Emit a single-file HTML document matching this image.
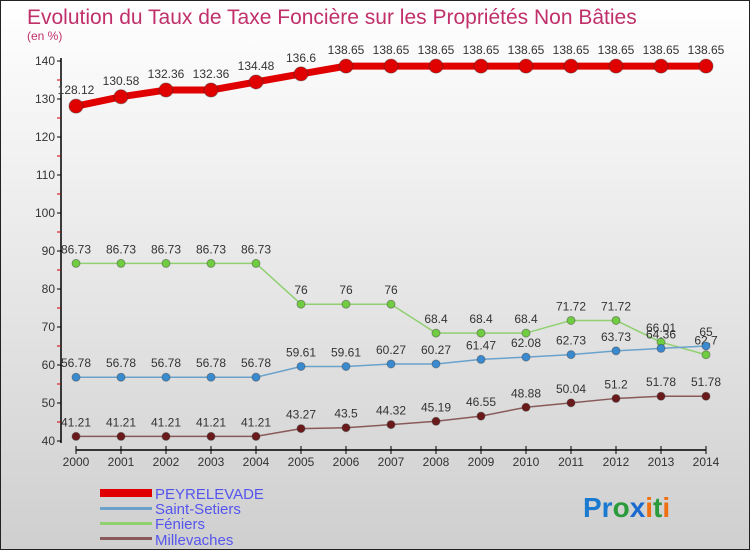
<!DOCTYPE html>
<html><head><meta charset="utf-8"><style>
body{margin:0}
#c{width:750px;height:550px;position:relative;overflow:hidden;font-family:"Liberation Sans",sans-serif}
</style></head><body>
<div id="c">
<svg id="s" width="750" height="550" xmlns="http://www.w3.org/2000/svg">
<defs><linearGradient id="bg" x1="0" y1="0" x2="0" y2="1"><stop offset="0" stop-color="#ffffff"/><stop offset="1" stop-color="#cfcfcf"/></linearGradient></defs>
<rect x="0.5" y="0.5" width="749" height="549" fill="url(#bg)" stroke="#222"/>
<text x="27" y="24" font-size="21" fill="#c0306a">Evolution du Taux de Taxe Foncière sur les Propriétés Non Bâties</text>
<text x="27" y="40" font-size="12" fill="#c0306a">(en %)</text>
<g id="axes"></g><g id="series"></g>
<g>
<rect x="100" y="489" width="52" height="8" fill="#e00000"/>
<text x="155" y="499" font-size="15" fill="#5555ee">PEYRELEVADE</text>
<rect x="100" y="507" width="52" height="3" fill="#6aa2cc"/>
<text x="155" y="514" font-size="15" fill="#5555ee">Saint-Setiers</text>
<rect x="100" y="522" width="52" height="3" fill="#90d070"/>
<text x="155" y="529" font-size="15" fill="#5555ee">Féniers</text>
<rect x="100" y="537" width="52" height="3" fill="#8a5a5a"/>
<text x="155" y="545" font-size="15" fill="#5555ee">Millevaches</text>
</g>
<g font-size="28" font-weight="bold">
<text x="583" y="517"><tspan fill="#1a7ad0">Pr</tspan><tspan fill="#2a9a3a">o</tspan><tspan fill="#1a6ad0">x</tspan><tspan fill="#f07010">i</tspan><tspan fill="#2a9a3a">t</tspan><tspan fill="#f07010">i</tspan></text>
</g>
</svg>
</div>
<script>
const years=[2000,2001,2002,2003,2004,2005,2006,2007,2008,2009,2010,2011,2012,2013,2014];
const peyrelevade=[128.12,130.58,132.36,132.36,134.48,136.6,138.65,138.65,138.65,138.65,138.65,138.65,138.65,138.65,138.65];
const saintSetiers=[56.78,56.78,56.78,56.78,56.78,59.61,59.61,60.27,60.27,61.47,62.08,62.73,63.73,64.36,65];
const feniers=[86.73,86.73,86.73,86.73,86.73,76,76,76,68.4,68.4,68.4,71.72,71.72,66.01,62.7];
const millevaches=[41.21,41.21,41.21,41.21,41.21,43.27,43.5,44.32,45.19,46.55,48.88,50.04,51.2,51.78,51.78];
const yTicks=[40,50,60,70,80,90,100,110,120,130,140];
const NS="http://www.w3.org/2000/svg";
const X=i=>76+i*45;
const Y=v=>441-(v-40)*3.8;
function mk(tag,attrs,parent){const e=document.createElementNS(NS,tag);for(const k in attrs)e.setAttribute(k,attrs[k]);parent.appendChild(e);return e;}
const axes=document.getElementById('axes');
let yl=mk('line',{x1:61,y1:58,x2:61,y2:443,stroke:'#000','stroke-width':1.5},axes);


yTicks.forEach(t=>{
 const l=mk('line',{x1:57,y1:Y(t),x2:61,y2:Y(t),stroke:'#000'},axes);
 
 
 const m=mk('line',{x1:57,y1:Y(t+5),x2:61,y2:Y(t+5),stroke:'#c00'},axes);
 if(t===140)m.remove();
 const tx=mk('text',{x:55,y:Y(t)+4,'font-size':12,fill:'#333','text-anchor':'end'},axes);
 tx.textContent=t;
 
 
});
let xl=mk('line',{x1:76,y1:450,x2:706,y2:450,stroke:'#000','stroke-width':1.5},axes);


years.forEach((yr,i)=>{
 mk('line',{x1:X(i),y1:446,x2:X(i),y2:454,stroke:'#000'},axes);
 const tx=mk('text',{x:X(i),y:466,'font-size':12,fill:'#333','text-anchor':'middle'},axes);
 tx.textContent=yr;
 
 
});
const g=document.getElementById('series');
function series(name,data,color,w,r,dot,labOff){
 const grp=mk('g',{},g);
 
 
 const p=mk('polyline',{points:data.map((v,i)=>X(i)+','+Y(v)).join(' '),fill:'none',stroke:color,'stroke-width':w,'stroke-linejoin':'round'},grp);
 
 
 data.forEach((v,i)=>{
  const c=mk('circle',{cx:X(i),cy:Y(v),r:r,fill:dot,stroke:'#333','stroke-opacity':0.4},grp);
  
  
  const t=mk('text',{x:X(i),y:Y(v)-labOff,'font-size':12,fill:'#333','text-anchor':'middle'},grp);
  t.textContent=v;
  
  
 });
}
series('millevaches',millevaches,'#8a5a5a',1.5,4,'#6a1a1a',10);
series('feniers',feniers,'#90d070',1.5,4,'#70cc40',10);
series('saint-setiers',saintSetiers,'#6aa2cc',1.5,4,'#3a8ad0',10);
series('peyrelevade',peyrelevade,'#e00000',7,7,'#e00000',12);
</script>
</body></html>
